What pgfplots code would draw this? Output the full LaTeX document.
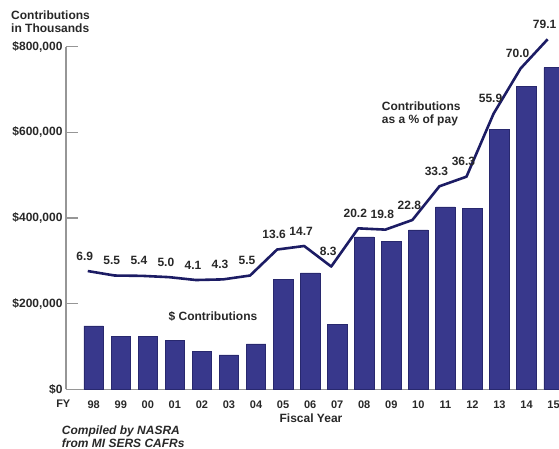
\documentclass[border=0pt]{standalone}
\usepackage{fontspec}
\setmainfont{Liberation Sans}
\usepackage{pgfplots}
\pgfplotsset{compat=1.18}
\usepackage{pgfplotstable}
\definecolor{barblue}{RGB}{56,56,140}
\definecolor{baredge}{RGB}{40,40,110}
\definecolor{linenavy}{RGB}{28,28,100}
\definecolor{axgray}{RGB}{150,150,150}
\definecolor{txt}{RGB}{40,40,40}

\pgfplotstableread{
x y
0 148000
1 123000
2 123000
3 113500
4 88700
5 80100
6 105800
7 257000
8 272000
9 152000
10 356000
11 344600
12 372000
13 426000
14 421700
15 606600
16 706600
17 751000
}\bars

\pgfplotstableread{
x y lab
-0.22 6.9 6.9
0.78 5.5 5.5
1.78 5.4 5.4
2.78 5.0 5.0
3.78 4.1 4.1
4.78 4.3 4.3
5.78 5.5 5.5
6.78 13.6 13.6
7.78 14.7 14.7
8.78 8.3 8.3
9.78 20.2 20.2
10.78 19.8 19.8
11.78 22.8 22.8
12.78 33.3 33.3
13.78 36.3 36.3
14.78 55.9 55.9
15.78 70.0 70.0
16.78 79.1 79.1
}\pct

\begin{document}
\begin{tikzpicture}
\begin{axis}[
  at={(0pt,0pt)}, anchor=south west,
  scale only axis, width=493pt, height=342.6pt,
  xmin=-1.024, xmax=17.2, ymin=0, ymax=800000,
  axis lines*=left,
  axis line style={-, draw=axgray, line width=1.2pt},
  tick align=inside, major tick length=12pt,
  ytick={0,200000,400000,600000,800000},
  yticklabels={{\$0},{\$200,000},{\$400,000},{\$600,000},{\$800,000}},
  scaled y ticks=false,
  ytick style={draw=axgray, line width=1.2pt},
  xtick={0,1,2,3,4,5,6,7,8,9,10,11,12,13,14,15,16,17},
  xticklabels={98,99,00,01,02,03,04,05,06,07,08,09,10,11,12,13,14,15},
  xtick style={draw=none},
  yticklabel style={font=\fontsize{12}{14}\selectfont\bfseries, text=txt, inner sep=0pt, xshift=-3.3pt},
  xticklabel style={font=\fontsize{11}{13}\selectfont\bfseries, text=txt, inner sep=0pt, yshift=-11pt},
]
\addplot[ybar, bar width=19.5pt, fill=barblue, draw=baredge, line width=0.6pt] table[x=x,y=y] {\bars};
\end{axis}
\begin{axis}[
  at={(0pt,0pt)}, anchor=south west,
  scale only axis, width=493pt, height=342.6pt,
  xmin=-1.024, xmax=17.2, ymin=-29.94, ymax=76.79,
  hide axis, clip=false,
]
\addplot[linenavy, line width=2.6pt, line join=round, no marks,
  nodes near coords, point meta=explicit symbolic,
  every node near coord/.append style={font=\fontsize{12}{14}\selectfont\bfseries, text=txt, anchor=south, inner sep=0pt, yshift=9.5pt, xshift=-3pt}]
  table[x=x,y=y,meta=lab] {\pct};
\end{axis}
\begin{scope}[every node/.style={text=txt, inner sep=0pt}]
\node[font=\fontsize{11}{13}\selectfont\bfseries] at (-2.7pt,-14pt) {FY};
\node[anchor=west, font=\fontsize{12}{14}\selectfont\bfseries] at (-55pt,374.3pt) {Contributions};
\node[anchor=west, font=\fontsize{12}{14}\selectfont\bfseries] at (-55pt,361pt) {in Thousands};
\node[font=\fontsize{12}{14}\selectfont\bfseries] at (147pt,72.6pt) {\$ Contributions};
\node[anchor=west, font=\fontsize{12}{14}\selectfont\bfseries] at (315.7pt,282.6pt) {Contributions};
\node[anchor=west, font=\fontsize{12}{14}\selectfont\bfseries] at (315.7pt,269.3pt) {as a \% of pay};
\node[font=\fontsize{12}{14}\selectfont\bfseries] at (245pt,-28.7pt) {Fiscal Year};
\node[anchor=west, font=\fontsize{12}{14}\selectfont\bfseries\itshape] at (-4.3pt,-42.4pt) {Compiled by NASRA};
\node[anchor=west, font=\fontsize{12}{14}\selectfont\bfseries\itshape] at (-4.3pt,-53.7pt) {from MI SERS CAFRs};
\end{scope}
\pgfresetboundingbox
\path[use as bounding box] (-66pt,-59.7pt) rectangle (493pt,389.3pt);
\end{tikzpicture}
\end{document}
